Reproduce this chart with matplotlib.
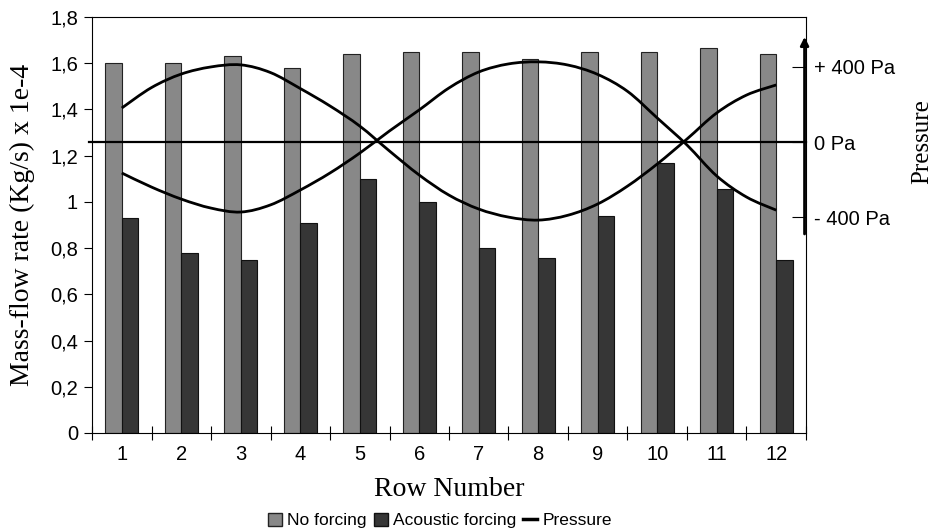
import numpy as np
import matplotlib
matplotlib.use("Agg")
import matplotlib.pyplot as plt
from matplotlib.patches import Patch, PathPatch
from matplotlib.lines import Line2D
from matplotlib.path import Path

# mass-flow rate per row (x 1e-4 kg/s)
rows = np.arange(1, 13)
no_forcing = [1.60, 1.60, 1.63, 1.58, 1.64, 1.65, 1.65, 1.62, 1.65, 1.65, 1.665, 1.64]
acoustic_forcing = [0.93, 0.78, 0.75, 0.91, 1.10, 1.00, 0.80, 0.755, 0.94, 1.17, 1.055, 0.75]

# pressure along the rows (Pa), two phases of the standing wave
pressure_x = np.arange(1, 12.01, 0.5)
pressure_a = [181, 290, 362, 400, 411, 370, 285, 192, 85, -48, -176, -283,
              -357, -400, -416, -390, -330, -235, -117, 16, 155, 250, 304]
pressure_b = [-165, -240, -304, -352, -373, -335, -256, -165, -59, 59, 171, 288,
              373, 416, 427, 410, 360, 270, 128, -16, -181, -293, -363]
pressure_ticks = [-400, 0, 400]
pressure_labels = ["- 400 Pa", "0 Pa", "+ 400 Pa"]

serif = "Liberation Serif"
sans = "Liberation Sans"


def smooth_line(ax, x, y, **kw):
    # Catmull-Rom through the points, drawn as cubic bezier segments
    x = np.asarray(x, float)
    y = np.asarray(y, float)
    pts = np.column_stack([x, y])
    ext = np.vstack([pts[0], pts, pts[-1]])
    verts = [pts[0]]
    codes = [Path.MOVETO]
    for i in range(1, len(ext) - 2):
        p0, p1, p2, p3 = ext[i - 1], ext[i], ext[i + 1], ext[i + 2]
        verts += [p1 + (p2 - p0) / 6, p2 - (p3 - p1) / 6, p2]
        codes += [Path.CURVE4] * 3
    ax.add_patch(PathPatch(Path(verts, codes), facecolor="none", **kw))


fig = plt.figure(figsize=(9.36, 5.31), dpi=100)
ax = fig.add_axes([0.0983, 0.1846, 0.7628, 0.7834])

w = 0.28
ax.bar(rows - w / 2, no_forcing, w, color="#888888", edgecolor="#222222", linewidth=0.8)
ax.bar(rows + w / 2, acoustic_forcing, w, color="#363636", edgecolor="#111111", linewidth=0.8)

ax.set_xlim(0.5, 12.5)
ax.set_ylim(0, 1.8)
yt = np.arange(0, 1.81, 0.2)
ax.set_yticks(yt)
ax.set_yticklabels([f"{v:g}".replace(".", ",") for v in np.round(yt, 1)],
                   fontfamily=sans, fontsize=14.5)
ax.set_xticks(rows)
ax.set_xticklabels([str(r) for r in rows], fontfamily=sans, fontsize=14.5)
ax.set_xticks(np.arange(0.5, 12.6, 1), minor=True)
ax.tick_params(axis="x", which="major", length=0, pad=9)
ax.tick_params(axis="x", which="minor", direction="inout", length=10, width=0.8)
ax.tick_params(axis="y", direction="out", length=6, width=0.8, pad=4)
for s in ax.spines.values():
    s.set_linewidth(0.8)

ax.set_xlabel("Row Number", fontfamily=serif, fontsize=20, labelpad=9)
ax.set_ylabel("Mass-flow rate (Kg/s) x 1e-4", fontfamily=serif, fontsize=20, labelpad=11)

# pressure on a second scale
ax2 = ax.twinx()
ax2.set_ylim(-1550, 666)
ax2.set_xlim(0.5, 12.5)
for s in ax2.spines.values():
    s.set_visible(False)
smooth_line(ax2, pressure_x, pressure_a, edgecolor="black", linewidth=2)
smooth_line(ax2, pressure_x, pressure_b, edgecolor="black", linewidth=2)
ax2.plot([0.45, 12.5], [0, 0], color="black", linewidth=1.6, clip_on=False)
ax2.set_yticks(pressure_ticks)
ax2.set_yticklabels(pressure_labels, fontfamily=sans, fontsize=14.5)
ax2.tick_params(axis="y", direction="in", length=10, width=0.8, pad=6)
ax2.annotate("", xy=(0.998, 560), xytext=(0.998, -490),
             xycoords=ax2.get_yaxis_transform(),
             arrowprops=dict(arrowstyle="-|>", color="black", lw=2,
                             mutation_scale=12, shrinkA=0, shrinkB=0))
fig.text(0.985, 0.733, "Pressure", rotation=90, ha="center", va="center",
         fontfamily=serif, fontsize=18)

handles = [Patch(facecolor="#888888", edgecolor="#222222", label="No forcing"),
           Patch(facecolor="#363636", edgecolor="#111111", label="Acoustic forcing"),
           Line2D([0], [0], color="black", linewidth=2.5, label="Pressure")]
fig.legend(handles=handles, loc="center", bbox_to_anchor=(0.47, 0.02), ncol=3,
           frameon=False, prop={"family": sans, "size": 12.5},
           handlelength=0.8, handleheight=0.8, handletextpad=0.3, columnspacing=0.4)

fig.savefig("out.png", dpi=100)
